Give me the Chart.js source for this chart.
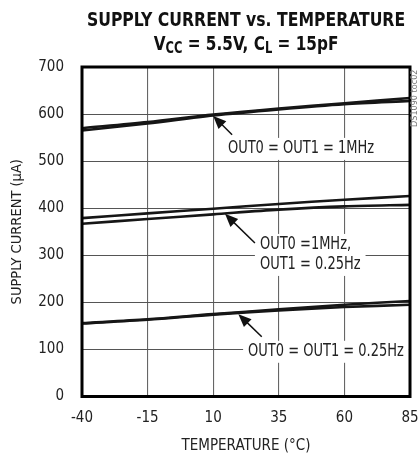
<!DOCTYPE html>
<html>
<head>
<meta charset="utf-8">
<title>Supply Current vs. Temperature</title>
<script src="https://cdn.jsdelivr.net/npm/chart.js@4.4.1/dist/chart.umd.min.js"></script>
<style>
  html, body { margin: 0; padding: 0; background: #fff; }
  #wrap { width: 419px; height: 456px; }
</style>
</head>
<body>
<div id="wrap"><canvas id="chart" width="419" height="456"></canvas></div>
<script>
// Data (uA vs. degC)
const temperatures = [-40, -15, 10, 35, 60, 85];
const fastUpper = [570, 583, 599, 612, 623, 634];
const fastLower = [565, 580, 597, 610, 621, 628];
const mixedUpper = [379, 389, 399, 409, 418, 426];
const mixedLower = [367, 377, 387, 397, 404, 407];
const slowUpper = [156, 164, 175, 185, 195, 203];
const slowLower = [155, 163, 174, 183, 190, 195];

// Axis ticks
const xTicks = [-40, -15, 10, 35, 60, 85];
const yTicks = [0, 100, 200, 300, 400, 500, 600, 700];

// Callouts: label text, where it sits and where its arrow points (data units)
const callouts = [
  { lines: ['OUT0 = OUT1 = 1MHz'], at: [15.6, 526], tail: [17.2, 556], tip: [10.0, 596] },
  { lines: ['OUT0 =1MHz,', 'OUT1 = 0.25Hz'], at: [27.8, 322], tail: [25.9, 326], tip: [14.5, 388] },
  { lines: ['OUT0 = OUT1 = 0.25Hz'], at: [23.3, 95], tail: [28.5, 127], tip: [19.6, 175] }
];

const FONT = "'Liberation Sans Narrow', 'DejaVu Sans Condensed', 'Roboto', sans-serif";
const SQUEEZE = 0.85; // plugin text is narrowed a bit to match the condensed face
Chart.defaults.font.family = FONT;
Chart.defaults.color = '#222';

function series(values) {
  return values.map((v, i) => ({ x: temperatures[i], y: v }));
}

function lineSet(values) {
  return {
    data: series(values),
    borderColor: '#161616',
    borderWidth: 2.6,
    pointRadius: 0,
    tension: 0.3,
    fill: false
  };
}

// Title block drawn above the plot, with subscripts on the second line
const titlePlugin = {
  id: 'titleBlock',
  afterDraw(chart) {
    const ctx = chart.ctx;
    const cx = 246;
    ctx.save();
    ctx.fillStyle = '#111';
    ctx.textBaseline = 'middle';
    ctx.textAlign = 'center';
    ctx.save();
    ctx.translate(cx, 21);
    ctx.scale(0.87, 1);
    ctx.font = `bold 20px ${FONT}`;
    ctx.fillText('SUPPLY CURRENT vs. TEMPERATURE', 0, 0);
    ctx.restore();

    const parts = [
      { t: 'V', sub: false }, { t: 'CC', sub: true },
      { t: ' = 5.5V, C', sub: false }, { t: 'L', sub: true },
      { t: ' = 15pF', sub: false }
    ];
    const big = `bold 20px ${FONT}`;
    const small = `bold 15px ${FONT}`;
    let total = 0;
    parts.forEach(p => {
      ctx.font = p.sub ? small : big;
      p.w = ctx.measureText(p.t).width;
      total += p.w;
    });
    ctx.save();
    ctx.translate(cx, 0);
    ctx.scale(SQUEEZE, 1);
    let x = -total / 2;
    ctx.textAlign = 'left';
    parts.forEach(p => {
      ctx.font = p.sub ? small : big;
      ctx.fillText(p.t, x, p.sub ? 49 : 45);
      x += p.w;
    });
    ctx.restore();

    // small figure code on the right edge
    ctx.font = `9px ${FONT}`;
    ctx.fillStyle = '#777';
    ctx.translate(415, 127);
    ctx.rotate(-Math.PI / 2);
    ctx.textAlign = 'left';
    ctx.fillText('DS1090 toc02', 0, 0);
    ctx.restore();
  }
};

// Labels with white backing and arrows
const calloutPlugin = {
  id: 'callouts',
  afterDatasetsDraw(chart) {
    const { ctx, scales: { x, y } } = chart;
    ctx.save();
    ctx.font = `17px ${FONT}`;
    ctx.textBaseline = 'middle';
    ctx.textAlign = 'left';
    callouts.forEach(c => {
      const lx = x.getPixelForValue(c.at[0]);
      const ly = y.getPixelForValue(c.at[1]);
      const lh = 20;
      const w = SQUEEZE * Math.max(...c.lines.map(s => ctx.measureText(s).width));
      ctx.fillStyle = '#fff';
      ctx.fillRect(lx - 5, ly - lh / 2 - 1, w + 10, lh * c.lines.length + 2);
      ctx.fillStyle = '#222';
      c.lines.forEach((s, i) => {
        ctx.save();
        ctx.translate(lx, ly + i * lh);
        ctx.scale(SQUEEZE, 1);
        ctx.fillText(s, 0, 0);
        ctx.restore();
      });

      // arrow
      const tx = x.getPixelForValue(c.tail[0]);
      const ty = y.getPixelForValue(c.tail[1]);
      const px = x.getPixelForValue(c.tip[0]);
      const py = y.getPixelForValue(c.tip[1]);
      const ang = Math.atan2(py - ty, px - tx);
      const head = 13;
      const half = 5.5;
      ctx.strokeStyle = '#111';
      ctx.lineWidth = 1.5;
      ctx.beginPath();
      ctx.moveTo(tx, ty);
      ctx.lineTo(px - Math.cos(ang) * head * 0.8, py - Math.sin(ang) * head * 0.8);
      ctx.stroke();
      ctx.fillStyle = '#111';
      ctx.beginPath();
      ctx.moveTo(px, py);
      ctx.lineTo(px - Math.cos(ang) * head - Math.sin(ang) * half,
                 py - Math.sin(ang) * head + Math.cos(ang) * half);
      ctx.lineTo(px - Math.cos(ang) * head + Math.sin(ang) * half,
                 py - Math.sin(ang) * head - Math.cos(ang) * half);
      ctx.closePath();
      ctx.fill();
    });
    ctx.restore();
  }
};

// Heavy frame round the plot area
const framePlugin = {
  id: 'frame',
  afterDraw(chart) {
    const { ctx, chartArea: a } = chart;
    ctx.save();
    ctx.strokeStyle = '#000';
    ctx.lineWidth = 3;
    ctx.strokeRect(a.left, a.top, a.right - a.left, a.bottom - a.top);
    ctx.restore();
  }
};

const ctx = document.getElementById('chart').getContext('2d');
new Chart(ctx, {
  type: 'line',
  data: {
    datasets: [
      lineSet(fastUpper), lineSet(fastLower),
      lineSet(mixedUpper), lineSet(mixedLower),
      lineSet(slowUpper), lineSet(slowLower)
    ]
  },
  options: {
    responsive: false,
    animation: false,
    layout: { padding: { top: 67, right: 9, left: 0, bottom: 0 } },
    plugins: {
      legend: { display: false },
      tooltip: { enabled: false }
    },
    scales: {
      x: {
        type: 'linear',
        min: -40,
        max: 85,
        afterBuildTicks: s => { s.ticks = xTicks.map(v => ({ value: v })); },
        afterFit: s => { s.height = 59.5; s.paddingLeft = 0; s.paddingRight = 0; },
        grid: { color: '#666', lineWidth: 1.1, drawTicks: false },
        border: { display: false },
        ticks: { padding: 13, font: { size: 15 }, color: '#222', maxRotation: 0 },
        title: {
          display: true,
          text: 'TEMPERATURE (°C)',
          font: { size: 15 },
          color: '#222',
          padding: { top: 0, bottom: 1 }
        }
      },
      y: {
        min: 0,
        max: 700,
        afterBuildTicks: s => { s.ticks = yTicks.map(v => ({ value: v })); },
        afterFit: s => { s.width = 82; s.paddingTop = 0; s.paddingBottom = 0; },
        grid: { color: '#555', lineWidth: 1.1, drawTicks: false },
        border: { display: false },
        ticks: { padding: 18, font: { size: 15 }, color: '#222' },
        title: {
          display: true,
          text: 'SUPPLY CURRENT (µA)',
          font: { size: 14.5 },
          color: '#222',
          padding: { top: 9, bottom: 0 }
        }
      }
    }
  },
  plugins: [calloutPlugin, framePlugin, titlePlugin]
});
</script>
</body>
</html>
